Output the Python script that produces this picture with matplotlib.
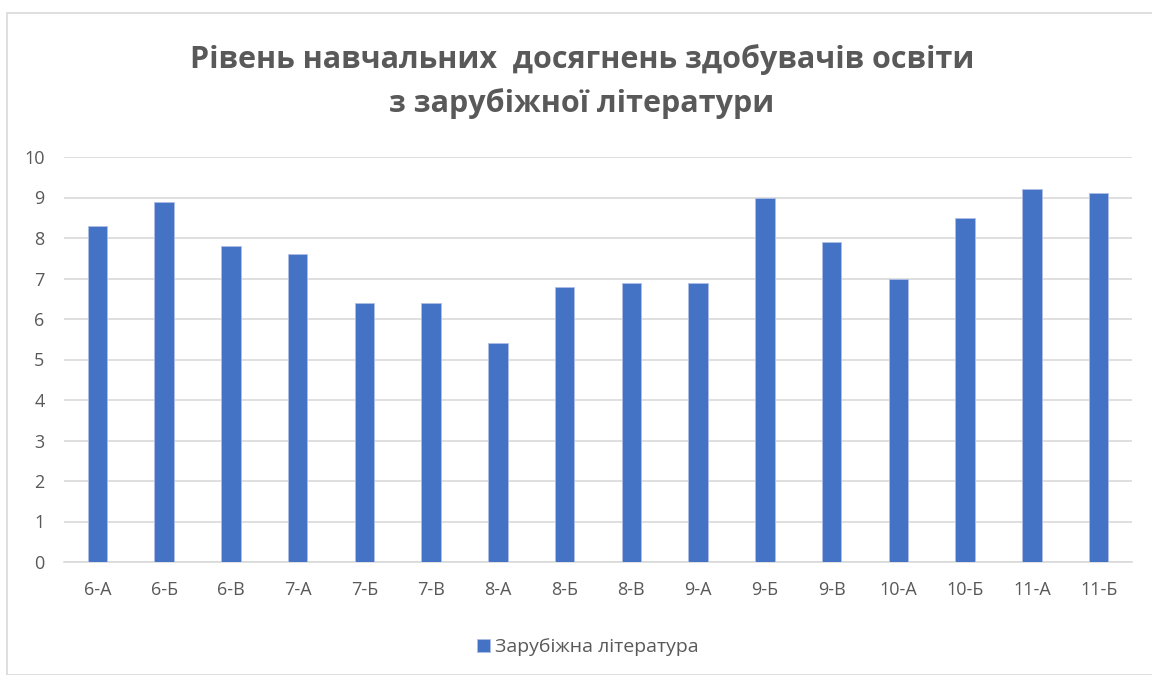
import matplotlib.pyplot as plt
from matplotlib.patches import Rectangle

plt.rcParams['font.family'] = ['Open Sans', 'DejaVu Sans']

classes = ["6-А", "6-Б", "6-В", "7-А", "7-Б", "7-В", "8-А", "8-Б",
           "8-В", "9-А", "9-Б", "9-В", "10-А", "10-Б", "11-А", "11-Б"]
scores = [8.3, 8.9, 7.8, 7.6, 6.4, 6.4, 5.4, 6.8,
          6.9, 6.9, 9.0, 7.9, 7.0, 8.5, 9.2, 9.1]
yticks = list(range(0, 11))

W, H = 1152, 675
fig = plt.figure(figsize=(W / 100, H / 100), dpi=100)

# рамка диаграммы
fig.patches.append(Rectangle((7 / W, 0), 1.2, 1 - 13 / H, transform=fig.transFigure,
                             fill=False, edgecolor="#d9d9d9", linewidth=1.2))

ax = fig.add_axes([64 / W, 1 - 562 / H, (1132 - 64) / W, (562 - 157) / H])
x = range(len(classes))
ax.bar(x, scores, width=0.29, color="#4472c4", edgecolor="#aebfe6", linewidth=0.6,
       label="Зарубіжна література", zorder=3)

ax.set_xlim(-0.5, len(classes) - 0.5)
ax.set_ylim(0, 10)
ax.set_yticks(yticks)
ax.set_xticks(list(x))
ax.set_xticklabels(classes)
ax.yaxis.grid(True, color="#d9d9d9", linewidth=1.2, zorder=0)
for s in ax.spines.values():
    s.set_visible(False)
ax.spines["bottom"].set_visible(True)
ax.spines["bottom"].set_color("#d9d9d9")
ax.spines["bottom"].set_linewidth(1.2)
ax.tick_params(axis="both", length=0, labelsize=13, labelcolor="#595959")
ax.tick_params(axis="x", pad=14)
ax.tick_params(axis="y", pad=14)

fig.text(582 / W, 1 - 60 / H, "Рівень навчальних  досягнень здобувачів освіти",
         ha="center", va="center", fontsize=22, fontweight="bold", color="#595959")
fig.text(582 / W, 1 - 104 / H, "з зарубіжної літератури",
         ha="center", va="center", fontsize=22, fontweight="bold", color="#595959")

fig.legend(loc="center", bbox_to_anchor=(588 / W, 1 - 647 / H), frameon=False,
           fontsize=14, labelcolor="#595959", handlelength=0.65, handleheight=0.65,
           handletextpad=0.3)

fig.savefig("out.png", dpi=100)
